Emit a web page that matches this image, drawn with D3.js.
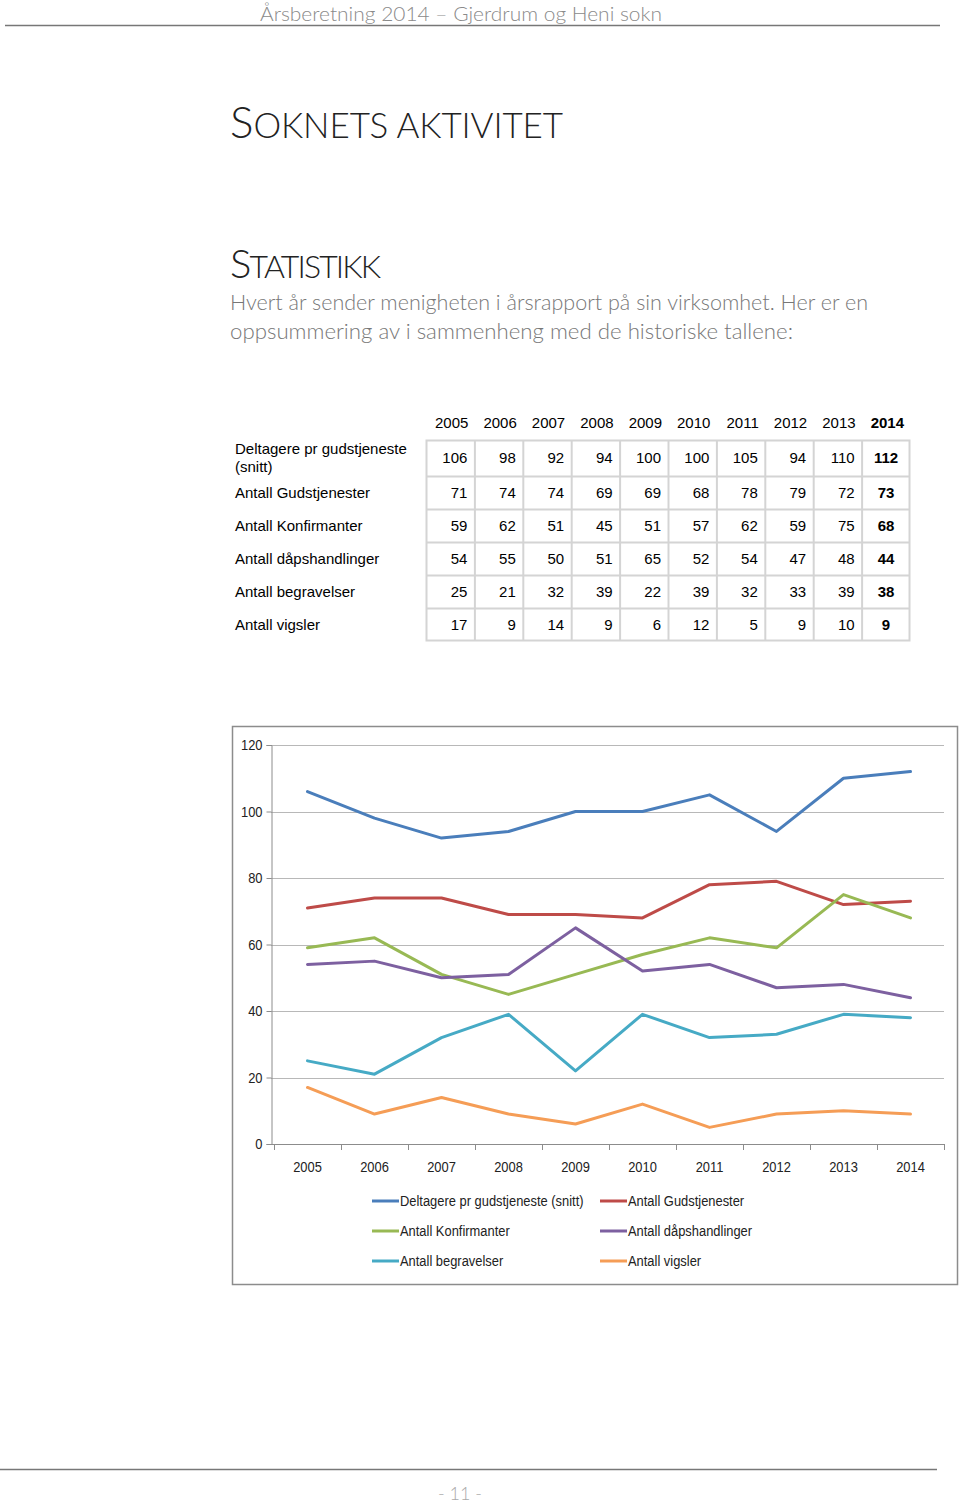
<!DOCTYPE html>
<html><head><meta charset="utf-8">
<script src="https://cdn.jsdelivr.net/npm/d3@7"></script>
<style>
body{margin:0;background:#fff;}
svg{display:block;}
</style></head>
<body>
<svg id="page" width="960" height="1504"></svg>
<script>
const years = ["2005","2006","2007","2008","2009","2010","2011","2012","2013","2014"];
const seriesNames = ["Deltagere pr gudstjeneste (snitt)","Antall Gudstjenester","Antall Konfirmanter","Antall dåpshandlinger","Antall begravelser","Antall vigsler"];
const tableLabels = [["Deltagere pr gudstjeneste","(snitt)"],["Antall Gudstjenester"],["Antall Konfirmanter"],["Antall dåpshandlinger"],["Antall begravelser"],["Antall vigsler"]];
const deltagere = [106,98,92,94,100,100,105,94,110,112];
const gudstjenester = [71,74,74,69,69,68,78,79,72,73];
const konfirmanter = [59,62,51,45,51,57,62,59,75,68];
const daap = [54,55,50,51,65,52,54,47,48,44];
const begravelser = [25,21,32,39,22,39,32,33,39,38];
const vigsler = [17,9,14,9,6,12,5,9,10,9];
const seriesValues = [deltagere,gudstjenester,konfirmanter,daap,begravelser,vigsler];
const colors = ["#4a7ebb","#be4b48","#98b954","#7d60a0","#46aac5","#f59d56"];
const yTicks = [0,20,40,60,80,100,120];

const svg = d3.select("#page");
const lightFont = "'Lato','Open Sans',sans-serif";
const gray = "#8a8a8a";

// header
svg.append("text").attr("x",260).attr("y",21)
  .attr("font-family",lightFont).attr("font-weight",300).attr("font-size",20.5).attr("fill",gray)
  .attr("textLength",402).attr("lengthAdjust","spacingAndGlyphs")
  .text("Årsberetning 2014 – Gjerdrum og Heni sokn");
svg.append("line").attr("x1",5).attr("x2",940).attr("y1",25.5).attr("y2",25.5).attr("stroke","#777").attr("stroke-width",1.5);

function smallCaps(x,y,parts,big,small,len){
  const t = svg.append("text").attr("x",x).attr("y",y).attr("font-family",lightFont).attr("font-weight",300)
    .attr("fill","#222").attr("textLength",len).attr("lengthAdjust","spacing");
  parts.forEach(p=>t.append("tspan").attr("font-size",p[1]?big:small).text(p[0]));
}
smallCaps(230,138,[["S",1],["OKNETS AKTIVITET",0]],44,35,333);
smallCaps(230,278,[["S",1],["TATISTIKK",0]],40,32,151);

svg.append("text").attr("x",230).attr("y",310).attr("font-family",lightFont).attr("font-weight",300)
  .attr("font-size",21).attr("fill","#777").attr("textLength",638).attr("lengthAdjust","spacingAndGlyphs")
  .text("Hvert år sender menigheten i årsrapport på sin virksomhet. Her er en");
svg.append("text").attr("x",230).attr("y",339).attr("font-family",lightFont).attr("font-weight",300)
  .attr("font-size",21).attr("fill","#777").attr("textLength",563).attr("lengthAdjust","spacingAndGlyphs")
  .text("oppsummering av i sammenheng med de historiske tallene:");

// table
const tFont = "'Liberation Sans',Arial,sans-serif";
const colX = d3.scaleBand().domain(years).range([426,910]);
const rowEdges = [440,476,509,542,575,608,641];
const tg = svg.append("g").attr("font-family",tFont).attr("font-size",15).attr("fill","#000");
years.forEach((yr,i)=>{
  tg.append("text").attr("x",colX(yr)+colX.bandwidth()-6).attr("y",428).attr("text-anchor","end")
    .attr("font-weight",i===9?"bold":"normal").text(yr);
});
tg.append("rect").attr("x",426.5).attr("y",440.5).attr("width",483).attr("height",200)
  .attr("fill","none").attr("stroke","#d4d4d4").attr("stroke-width",2);
years.slice(1).forEach(yr=>{
  tg.append("line").attr("x1",colX(yr)+0.5).attr("x2",colX(yr)+0.5).attr("y1",440).attr("y2",641).attr("stroke","#d4d4d4").attr("stroke-width",2);
});
rowEdges.slice(1,-1).forEach(y=>{
  tg.append("line").attr("x1",426).attr("x2",910).attr("y1",y+0.5).attr("y2",y+0.5).attr("stroke","#d4d4d4").attr("stroke-width",2);
});
seriesValues.forEach((vals,r)=>{
  const yTop = rowEdges[r], yBot = rowEdges[r+1], ym = (yTop+yBot)/2 + 5;
  const lab = tableLabels[r];
  if(lab.length===2){
    tg.append("text").attr("x",235).attr("y",ym-9).text(lab[0]);
    tg.append("text").attr("x",235).attr("y",ym+9).text(lab[1]);
  } else {
    tg.append("text").attr("x",235).attr("y",ym).text(lab[0]);
  }
  vals.forEach((v,i)=>{
    const cx = colX(years[i])+colX.bandwidth();
    tg.append("text").attr("x",i===9?cx-24:cx-7).attr("y",ym).attr("text-anchor",i===9?"middle":"end")
      .attr("font-weight",i===9?"bold":"normal").text(v);
  });
});

// chart
const cFont = "'Liberation Sans',sans-serif";
const squeeze = 0.89;
svg.append("rect").attr("x",232.5).attr("y",726.5).attr("width",725).attr("height",558)
  .attr("fill","#fff").attr("stroke","#8c8c8c").attr("stroke-width",1.5);
const x = d3.scaleBand().domain(years).range([274,944]);
const y = d3.scaleLinear().domain([0,120]).range([1144,745]);
const cg = svg.append("g");
cg.append("g").selectAll("line").data(yTicks.filter(d=>d>0)).join("line")
  .attr("x1",271).attr("x2",944).attr("y1",d=>Math.round(y(d))+0.5).attr("y2",d=>Math.round(y(d))+0.5)
  .attr("stroke","#b8b8b8").attr("stroke-width",1);
const yAxis = cg.append("g").attr("transform","translate(271.5,0)")
  .call(d3.axisLeft(y).tickValues(yTicks).tickSize(5).tickPadding(4));
yAxis.select(".domain").attr("stroke","#8c8c8c");
yAxis.selectAll(".tick line").attr("stroke","#8c8c8c");
yAxis.selectAll("text").attr("font-family",cFont).attr("font-size",14.5).attr("fill","#222")
  .attr("transform",`scale(${squeeze},1)`).attr("x",-9/squeeze);
const xAxis = cg.append("g").attr("transform","translate(0,1144.5)")
  .call(d3.axisBottom(x).tickSize(0).tickPadding(17));
xAxis.select(".domain").attr("stroke","#8c8c8c").attr("d","M271,0H944");
xAxis.selectAll("text").attr("font-family",cFont).attr("font-size",14.5).attr("fill","#222")
  .attr("transform",`scale(${squeeze},1)`);
cg.append("g").selectAll("line").data(years.map(d=>x(d)).concat([944])).join("line")
  .attr("x1",d=>Math.round(d)+0.5).attr("x2",d=>Math.round(d)+0.5).attr("y1",1144).attr("y2",1150)
  .attr("stroke","#8c8c8c");
const line = d3.line().x((d,i)=>x(years[i])+x.bandwidth()/2).y(d=>y(d));
seriesValues.forEach((vals,s)=>{
  cg.append("path").datum(vals).attr("d",line).attr("fill","none")
    .attr("stroke",colors[s]).attr("stroke-width",3).attr("stroke-linejoin","round").attr("stroke-linecap","round");
});
// legend
const lg = svg.append("g").attr("font-family",cFont).attr("font-size",14.5).attr("fill","#222");
seriesNames.forEach((n,i)=>{
  const col = i%2, row = Math.floor(i/2);
  const lx = col===0?372:600, ly = 1201+row*30;
  lg.append("line").attr("x1",lx).attr("x2",lx+27).attr("y1",ly).attr("y2",ly).attr("stroke",colors[i]).attr("stroke-width",3);
  lg.append("text").attr("transform",`translate(${lx+28},${ly+5}) scale(${squeeze},1)`).text(n);
});

// footer
svg.append("line").attr("x1",0).attr("x2",937).attr("y1",1469.5).attr("y2",1469.5).attr("stroke","#777").attr("stroke-width",1.5);
svg.append("text").attr("x",460).attr("y",1500).attr("text-anchor","middle")
  .attr("font-family",lightFont).attr("font-weight",300).attr("font-size",18).attr("fill","#aaa")
  .text("- 11 -");
</script>
</body></html>
